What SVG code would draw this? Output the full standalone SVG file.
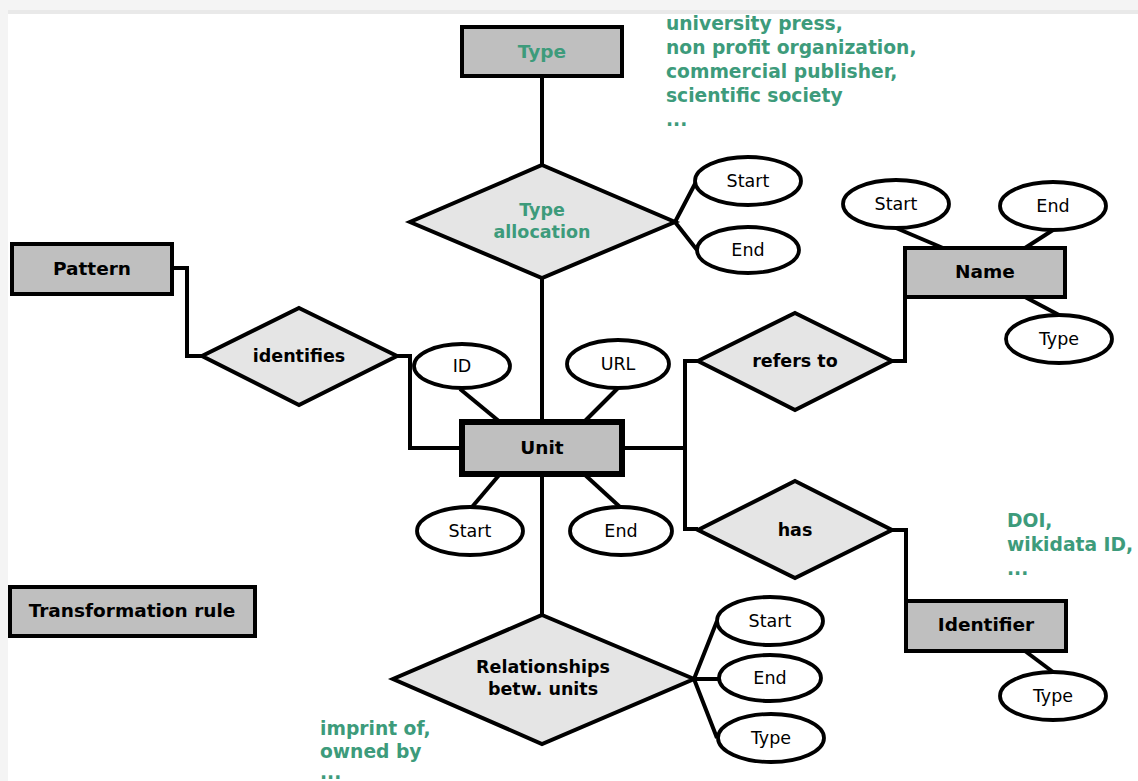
<svg xmlns="http://www.w3.org/2000/svg" width="1138" height="781" viewBox="0 0 1138 781">
<defs>
<style>
.bg{fill:#ffffff}
.ent{fill:#bfbfbf;stroke:#000;stroke-width:4}
.rel{fill:#e5e5e5;stroke:#000;stroke-width:4;stroke-linejoin:miter}
.att{fill:#ffffff;stroke:#000;stroke-width:3.8}
.con{fill:none;stroke:#000;stroke-width:4}
.bl{font-family:"DejaVu Sans","Liberation Sans",sans-serif;font-weight:bold;font-size:18.5px;fill:#000;text-anchor:middle}
.dl{font-family:"DejaVu Sans","Liberation Sans",sans-serif;font-weight:bold;font-size:17.5px;fill:#000;text-anchor:middle}
.al{font-family:"DejaVu Sans","Liberation Sans",sans-serif;font-size:17.5px;fill:#000;text-anchor:middle}
.gr{font-family:"DejaVu Sans","Liberation Sans",sans-serif;font-weight:bold;font-size:18.7px;fill:#3d9b7b}
</style>
</defs>
<rect class="bg" x="0" y="0" width="1138" height="781"/>
<rect x="0" y="0" width="1138" height="12" fill="#f4f4f4"/>
<rect x="0" y="10" width="1138" height="4" fill="#e9e9e9"/>
<rect x="0" y="0" width="8" height="781" fill="#f4f4f4"/>

<g id="connectors">
<path class="con" d="M542 76 V165"/>
<path class="con" d="M542 278 V422"/>
<path class="con" d="M675 222 L697 180 M675 222 L697 250"/>
<path class="con" d="M172 268 H187 V356 H202"/>
<path class="con" d="M397 356 H410 V448 H462"/>
<path class="con" d="M460 389 L500 422"/>
<path class="con" d="M618 388 L584 422"/>
<path class="con" d="M500 474 L472 507"/>
<path class="con" d="M584 474 L620 507"/>
<path class="con" d="M622 448 H685"/>
<path class="con" d="M698 361 H685 V529 H698"/>
<path class="con" d="M892 361 H905 V297"/>
<path class="con" d="M896 228 L943 248"/>
<path class="con" d="M1053 230 L1025 248"/>
<path class="con" d="M1025 297 L1059 315"/>
<path class="con" d="M892 530 H906 V601"/>
<path class="con" d="M1025 651 L1053 672"/>
<path class="con" d="M542 474 V617"/>
<path class="con" d="M694 679 L717 621 M694 679 H719 M694 679 L717 738"/>
</g>

<g id="type">
<rect class="ent" x="462" y="27" width="160" height="49"/>
<text class="bl" x="542" y="58" style="fill:#3d9b7b">Type</text>
</g>
<g id="type-values">
<text class="gr" x="666" y="30">university press,</text>
<text class="gr" x="666" y="54">non profit organization,</text>
<text class="gr" x="666" y="78">commercial publisher,</text>
<text class="gr" x="666" y="102">scientific society</text>
<text class="gr" x="666" y="126">...</text>
</g>

<g id="type-allocation">
<polygon class="rel" points="542,165 675,222 542,278 410,222"/>
<text class="dl" x="542" y="216" style="fill:#3d9b7b">Type</text>
<text class="dl" x="542" y="238" style="fill:#3d9b7b">allocation</text>
</g>
<g id="ta-start">
<ellipse class="att" cx="748" cy="181" rx="53" ry="24"/>
<text class="al" x="748" y="187">Start</text>
</g>
<g id="ta-end">
<ellipse class="att" cx="748" cy="250" rx="51" ry="23"/>
<text class="al" x="748" y="256">End</text>
</g>

<g id="pattern">
<rect class="ent" x="12" y="244" width="160" height="50"/>
<text class="bl" x="92" y="275">Pattern</text>
</g>
<g id="identifies">
<polygon class="rel" points="299,308 397,356 299,405 202,356"/>
<text class="dl" x="299" y="362">identifies</text>
</g>

<g id="unit">
<rect x="462" y="422" width="160" height="52" fill="#bfbfbf" stroke="#000" stroke-width="6"/>
<text class="bl" x="542" y="454">Unit</text>
</g>
<g id="unit-id">
<ellipse class="att" cx="462" cy="366" rx="48" ry="22"/>
<text class="al" x="462" y="372">ID</text>
</g>
<g id="unit-url">
<ellipse class="att" cx="618" cy="364" rx="51" ry="24"/>
<text class="al" x="618" y="370">URL</text>
</g>
<g id="unit-start">
<ellipse class="att" cx="470" cy="531" rx="53" ry="24"/>
<text class="al" x="470" y="537">Start</text>
</g>
<g id="unit-end">
<ellipse class="att" cx="621" cy="531" rx="51" ry="24"/>
<text class="al" x="621" y="537">End</text>
</g>

<g id="refers-to">
<polygon class="rel" points="795,313 892,361 795,410 698,361"/>
<text class="dl" x="795" y="367">refers to</text>
</g>
<g id="name">
<rect class="ent" x="905" y="248" width="160" height="49"/>
<text class="bl" x="985" y="278">Name</text>
</g>
<g id="name-start">
<ellipse class="att" cx="896" cy="204" rx="53" ry="24"/>
<text class="al" x="896" y="210">Start</text>
</g>
<g id="name-end">
<ellipse class="att" cx="1053" cy="206" rx="53" ry="24"/>
<text class="al" x="1053" y="212">End</text>
</g>
<g id="name-type">
<ellipse class="att" cx="1059" cy="339" rx="53" ry="24"/>
<text class="al" x="1059" y="345">Type</text>
</g>

<g id="has">
<polygon class="rel" points="795,481 892,530 795,578 698,530"/>
<text class="dl" x="795" y="536">has</text>
</g>
<g id="identifier-values">
<text class="gr" x="1007" y="527">DOI,</text>
<text class="gr" x="1007" y="551">wikidata ID,</text>
<text class="gr" x="1007" y="575">...</text>
</g>
<g id="identifier">
<rect class="ent" x="906" y="601" width="160" height="50"/>
<text class="bl" x="986" y="631">Identifier</text>
</g>
<g id="identifier-type">
<ellipse class="att" cx="1053" cy="696" rx="53" ry="24"/>
<text class="al" x="1053" y="702">Type</text>
</g>

<g id="transformation-rule">
<rect class="ent" x="10" y="587" width="245" height="49"/>
<text class="bl" x="132" y="617">Transformation rule</text>
</g>

<g id="relationships">
<polygon class="rel" points="542,615 694,679 542,744 393,679"/>
<text class="dl" x="543" y="673">Relationships</text>
<text class="dl" x="543" y="695">betw. units</text>
</g>
<g id="rel-start">
<ellipse class="att" cx="770" cy="621" rx="53" ry="24"/>
<text class="al" x="770" y="627">Start</text>
</g>
<g id="rel-end">
<ellipse class="att" cx="770" cy="678" rx="51" ry="23"/>
<text class="al" x="770" y="684">End</text>
</g>
<g id="rel-type">
<ellipse class="att" cx="771" cy="738" rx="53" ry="24"/>
<text class="al" x="771" y="744">Type</text>
</g>
<g id="relationship-values">
<text class="gr" x="320" y="735">imprint of,</text>
<text class="gr" x="320" y="758">owned by</text>
<text class="gr" x="320" y="779">...</text>
</g>
</svg>
